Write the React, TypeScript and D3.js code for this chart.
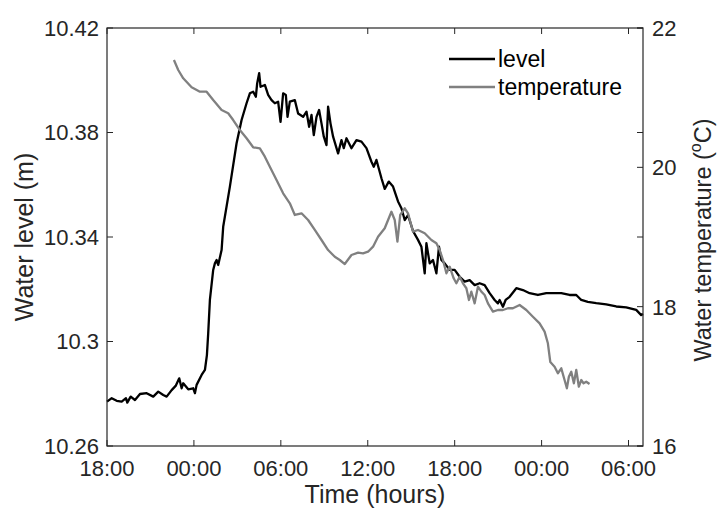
import React from "react";
import * as d3 from "d3";

// Hours since 18:00 on the first day
const levelTime = [0, 0.324, 0.669, 1.014, 1.31, 1.4, 1.634, 1.931, 2.276, 2.738, 3.193, 3.538, 3.883, 4.117, 4.462, 4.738, 4.986, 5.152, 5.262, 5.607, 5.952, 6.069, 6.186, 6.531, 6.759, 6.897, 6.986, 7.103, 7.331, 7.448, 7.566, 7.676, 7.91, 8.021, 8.483, 8.945, 9.29, 9.634, 9.862, 10.09, 10.276, 10.366, 10.503, 10.6, 10.897, 11.124, 11.359, 11.586, 11.814, 11.979, 12.159, 12.345, 12.462, 12.621, 12.966, 13.193, 13.538, 13.772, 13.952, 14.117, 14.276, 14.462, 14.641, 14.807, 14.966, 15.152, 15.262, 15.428, 15.607, 15.952, 16.186, 16.345, 16.531, 16.876, 17.221, 17.566, 17.91, 18.255, 18.414, 18.6, 18.945, 19.172, 19.448, 19.745, 20.09, 20.324, 20.552, 20.779, 21.124, 21.469, 21.703, 21.931, 22.048, 22.276, 22.503, 22.738, 22.917, 23.083, 23.31, 23.655, 24.0, 24.345, 24.69, 25.034, 25.379, 25.724, 26.069, 26.414, 26.759, 26.986, 27.103, 27.331, 27.517, 27.793, 28.255, 28.71, 29.172, 29.745, 30.324, 30.779, 31.359, 31.931, 32.393, 32.738, 33.193, 33.772, 34.462, 35.152, 35.841, 36.531, 36.876, 37.0];
const levelValue = [10.277, 10.2783, 10.2773, 10.277, 10.2783, 10.2766, 10.2789, 10.2776, 10.2799, 10.2802, 10.2789, 10.2808, 10.2795, 10.2789, 10.2814, 10.283, 10.2859, 10.2821, 10.284, 10.2817, 10.2821, 10.2802, 10.2834, 10.2872, 10.2891, 10.2948, 10.3031, 10.3159, 10.3274, 10.3299, 10.3312, 10.3293, 10.335, 10.3439, 10.3593, 10.3759, 10.3848, 10.3912, 10.395, 10.3956, 10.3937, 10.3988, 10.4027, 10.3975, 10.3982, 10.3944, 10.3924, 10.3912, 10.3918, 10.3841, 10.395, 10.3944, 10.386, 10.3918, 10.3924, 10.3873, 10.386, 10.388, 10.3822, 10.3867, 10.379, 10.386, 10.3886, 10.3835, 10.3784, 10.3752, 10.3899, 10.3835, 10.3784, 10.372, 10.3771, 10.374, 10.3778, 10.374, 10.3771, 10.3765, 10.374, 10.3688, 10.3669, 10.3695, 10.3625, 10.3584, 10.3612, 10.3593, 10.3536, 10.351, 10.3465, 10.3484, 10.3423, 10.3389, 10.3363, 10.3261, 10.3376, 10.3299, 10.3312, 10.3261, 10.3363, 10.3312, 10.3299, 10.3274, 10.3274, 10.3248, 10.3229, 10.3235, 10.3216, 10.3223, 10.3216, 10.3185, 10.3159, 10.3146, 10.3159, 10.3133, 10.3159, 10.3171, 10.3204, 10.3197, 10.3185, 10.3178, 10.3185, 10.3185, 10.3185, 10.3178, 10.3178, 10.3159, 10.3152, 10.3147, 10.3142, 10.3134, 10.3131, 10.3121, 10.3101, 10.3105];

const tempTime = [4.621, 4.917, 5.262, 5.841, 6.414, 6.876, 7.331, 7.91, 8.366, 8.71, 9.172, 9.634, 10.09, 10.552, 10.897, 11.241, 11.703, 12.159, 12.621, 12.966, 13.428, 13.883, 14.345, 14.807, 15.262, 15.724, 16.069, 16.414, 16.876, 17.331, 17.676, 18.021, 18.366, 18.71, 19.172, 19.634, 19.862, 20.048, 20.241, 20.552, 20.779, 21.124, 21.469, 21.931, 22.393, 22.738, 22.966, 23.193, 23.428, 23.655, 23.931, 24.117, 24.345, 24.572, 24.807, 24.986, 25.152, 25.379, 25.607, 25.841, 26.069, 26.297, 26.641, 26.986, 27.331, 27.676, 28.021, 28.483, 28.945, 29.4, 29.862, 30.207, 30.434, 30.6, 30.897, 31.124, 31.359, 31.586, 31.745, 31.883, 32.048, 32.228, 32.393, 32.572, 32.738, 32.897, 33.083, 33.31];
const tempValue = [21.541, 21.397, 21.278, 21.149, 21.086, 21.086, 20.967, 20.823, 20.776, 20.679, 20.536, 20.417, 20.288, 20.273, 20.153, 20.009, 19.818, 19.627, 19.484, 19.316, 19.34, 19.244, 19.101, 18.957, 18.813, 18.717, 18.67, 18.612, 18.742, 18.775, 18.766, 18.789, 18.861, 19.004, 19.125, 19.363, 19.244, 18.933, 19.316, 19.412, 19.34, 19.076, 19.101, 19.053, 18.957, 18.91, 18.813, 18.67, 18.479, 18.574, 18.407, 18.335, 18.43, 18.335, 18.264, 18.096, 18.215, 18.048, 18.287, 18.215, 18.168, 18.048, 17.928, 17.952, 17.952, 17.977, 17.977, 18.024, 17.952, 17.856, 17.761, 17.641, 17.474, 17.206, 17.138, 17.044, 17.115, 16.947, 16.828, 16.995, 17.067, 16.9, 17.091, 16.851, 16.947, 16.9, 16.923, 16.89];

const xTicks = [0, 6, 12, 18, 24, 30, 36];
const xTickLabels = ["18:00", "00:00", "06:00", "12:00", "18:00", "00:00", "06:00"];
const leftTicks = [10.26, 10.3, 10.34, 10.38, 10.42];
const leftTickLabels = ["10.26", "10.3", "10.34", "10.38", "10.42"];
const rightTicks = [16, 18, 20, 22];
const rightTickLabels = ["16", "18", "20", "22"];
const seriesNames = ["level", "temperature"];

const W = 717;
const H = 509;
const M = { left: 107, right: 643, top: 28, bottom: 446 };
const AX = "#262626";
const FONT = "'Liberation Sans', Arial, Helvetica, sans-serif";
const TICK = 6;

export default function App() {
  const x = d3.scaleLinear().domain([0, 37]).range([M.left, M.right]);
  const yL = d3.scaleLinear().domain([10.26, 10.42]).range([M.bottom, M.top]);
  const yR = d3.scaleLinear().domain([16, 22]).range([M.bottom, M.top]);

  const levelLine = d3
    .line<number>()
    .x((_, i) => x(levelTime[i]))
    .y((d) => yL(d));
  const tempLine = d3
    .line<number>()
    .x((_, i) => x(tempTime[i]))
    .y((d) => yR(d));

  const colors = ["#000000", "#808080"];

  return (
    <div style={{ position: "absolute", left: 0, top: 0 }}>
      <svg width={W} height={H} style={{ display: "block", background: "#fff" }} fontFamily={FONT}>
        <rect x={0} y={0} width={W} height={H} fill="#fff" />
        {/* data */}
        <path d={levelLine(levelValue) || ""} fill="none" stroke={colors[0]} strokeWidth={2.3} strokeLinejoin="round" />
        <path d={tempLine(tempValue) || ""} fill="none" stroke={colors[1]} strokeWidth={2.3} strokeLinejoin="round" />

        {/* box */}
        <rect x={M.left} y={M.top} width={M.right - M.left} height={M.bottom - M.top} fill="none" stroke={AX} strokeWidth={1.2} />

        {/* x ticks */}
        {xTicks.map((t, i) => (
          <g key={"x" + i}>
            <line x1={x(t)} x2={x(t)} y1={M.bottom} y2={M.bottom - TICK} stroke={AX} strokeWidth={1} />
            <line x1={x(t)} x2={x(t)} y1={M.top} y2={M.top + TICK} stroke={AX} strokeWidth={1} />
            <text x={x(t)} y={476} textAnchor="middle" fontSize={22} fill={AX}>
              {xTickLabels[i]}
            </text>
          </g>
        ))}

        {/* left ticks (mirrored on right) */}
        {leftTicks.map((v, i) => (
          <g key={"l" + i}>
            <line x1={M.left} x2={M.left + TICK} y1={yL(v)} y2={yL(v)} stroke={AX} strokeWidth={1} />
            <line x1={M.right} x2={M.right - TICK} y1={yL(v)} y2={yL(v)} stroke={AX} strokeWidth={1} />
            <text x={99} y={yL(v)} dy="0.36em" textAnchor="end" fontSize={22} fill={AX}>
              {leftTickLabels[i]}
            </text>
          </g>
        ))}

        {/* right ticks */}
        {rightTicks.map((v, i) => (
          <g key={"r" + i}>
            <line x1={M.right} x2={M.right - TICK} y1={yR(v)} y2={yR(v)} stroke={AX} strokeWidth={1} />
            <text x={652} y={yR(v)} dy="0.36em" textAnchor="start" fontSize={22} fill={AX}>
              {rightTickLabels[i]}
            </text>
          </g>
        ))}

        {/* axis labels */}
        <text x={(M.left + M.right) / 2} y={503} textAnchor="middle" fontSize={25} fill={AX}>
          Time (hours)
        </text>
        <text transform={`translate(33,${(M.top + M.bottom) / 2}) rotate(-90)`} textAnchor="middle" fontSize={25} fill={AX}>
          Water level (m)
        </text>
        <text transform={`translate(711,${(M.top + M.bottom) / 2 + 3}) rotate(-90)`} textAnchor="middle" fontSize={23.5} fill={AX}>
          Water temperature (
          <tspan fontSize={16} dy={-10}>o</tspan>
          <tspan dy={10}>C)</tspan>
        </text>

        {/* legend */}
        {seriesNames.map((n, i) => (
          <g key={"lg" + i}>
            <line x1={449} x2={495} y1={59 + i * 28} y2={59 + i * 28} stroke={colors[i]} strokeWidth={2.3} />
            <text x={498} y={67 + i * 28} fontSize={23} fill="#000">
              {n}
            </text>
          </g>
        ))}
      </svg>
    </div>
  );
}
